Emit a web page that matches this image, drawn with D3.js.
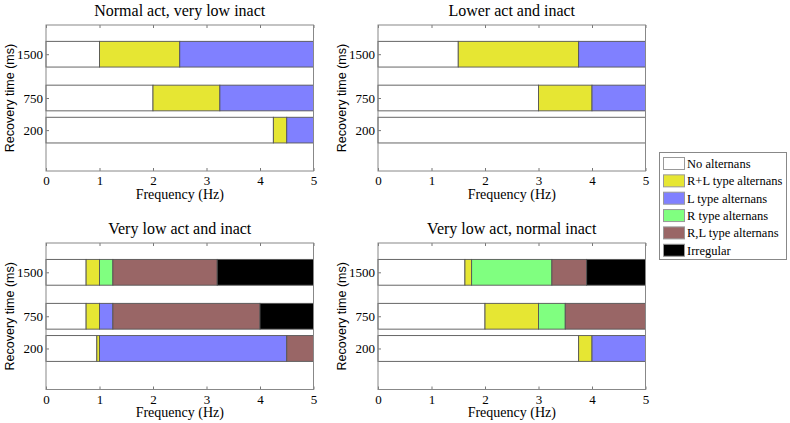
<!DOCTYPE html>
<html lang="en">
<head>
  <meta charset="UTF-8">
  <title>Alternans regions</title>
  <style>
    body { margin: 0; background: #fff; }
    text { font-family: "Liberation Serif", "Times New Roman", serif; fill: #000; }
  </style>
</head>
<body>
  <script src="https://cdn.jsdelivr.net/npm/d3@7/dist/d3.min.js"></script>
  <script>
    var width = 790;
    var height = 423;

    // data
    var recoveryTimes = [1500, 750, 200];
    var xTicks = [0, 1, 2, 3, 4, 5];
    var typeNames = ["No alternans", "R+L type alternans", "L type alternans",
      "R type alternans", "R,L type alternans", "Irregular"];
    var typeColors = ["#ffffff", "#e6e633", "#8080ff", "#80ff80", "#996666", "#000000"];
    var panelTitles = ["Normal act, very low inact", "Lower act and inact",
      "Very low act and inact", "Very low act, normal inact"];

    // each row: recovery time, frequency breakpoints (Hz), type index of each segment
    var normalActVeryLowInact = [
      { time: 1500, edges: [0, 1, 2.5, 5], types: [0, 1, 2] },
      { time: 750, edges: [0, 2, 3.25, 5], types: [0, 1, 2] },
      { time: 200, edges: [0, 4.25, 4.5, 5], types: [0, 1, 2] }
    ];
    var lowerActInact = [
      { time: 1500, edges: [0, 1.5, 3.75, 5], types: [0, 1, 2] },
      { time: 750, edges: [0, 3, 4, 5], types: [0, 1, 2] },
      { time: 200, edges: [0, 5], types: [0] }
    ];
    var veryLowActInact = [
      { time: 1500, edges: [0, 0.75, 1, 1.25, 3.2, 5], types: [0, 1, 3, 4, 5] },
      { time: 750, edges: [0, 0.75, 1, 1.25, 4, 5], types: [0, 1, 2, 4, 5] },
      { time: 200, edges: [0, 0.95, 1, 4.5, 5], types: [0, 1, 2, 4] }
    ];
    var veryLowActNormalInact = [
      { time: 1500, edges: [0, 1.625, 1.75, 3.25, 3.9, 5], types: [0, 1, 3, 4, 5] },
      { time: 750, edges: [0, 2, 3, 3.5, 5], types: [0, 1, 3, 4] },
      { time: 200, edges: [0, 3.75, 4, 5], types: [0, 1, 2] }
    ];
    var panelData = [normalActVeryLowInact, lowerActInact, veryLowActInact, veryLowActNormalInact];

    // layout of the four axes boxes
    var boxes = [
      { left: 46, right: 313.5, top: 25, bottom: 171 },
      { left: 378, right: 645.5, top: 25, bottom: 171 },
      { left: 46, right: 313.5, top: 243, bottom: 389.5 },
      { left: 378, right: 645.5, top: 243, bottom: 389.5 }
    ];
    var barHalf = 220; // ms
    var serif = "'Liberation Serif', 'Times New Roman', serif";

    var svg = d3.select("body").append("svg")
      .attr("width", width)
      .attr("height", height);

    panelData.forEach(function (rows, p) {
      var b = boxes[p];
      var x = d3.scaleLinear().domain([0, 5]).range([b.left, b.right]);
      var y = d3.scaleLinear().domain([-500, 2000]).range([b.bottom, b.top]);
      var g = svg.append("g");

      g.append("rect")
        .attr("x", b.left).attr("y", b.top)
        .attr("width", b.right - b.left).attr("height", b.bottom - b.top)
        .style("fill", "#fff");

      var segs = [];
      rows.forEach(function (r) {
        r.types.forEach(function (t, i) {
          segs.push({ time: r.time, x0: r.edges[i], x1: r.edges[i + 1], type: t });
        });
      });

      g.selectAll("rect.seg")
        .data(segs)
        .enter()
        .append("rect")
        .attr("class", "seg")
        .attr("x", function (d) { return x(d.x0); })
        .attr("width", function (d) { return x(d.x1) - x(d.x0); })
        .attr("y", function (d) { return y(d.time + barHalf); })
        .attr("height", function (d) { return y(d.time - barHalf) - y(d.time + barHalf); })
        .style("fill", function (d) { return typeColors[d.type]; })
        .style("stroke", "#555")
        .style("stroke-width", 0.9);

      // axes with inward ticks
      var xAxis = g.append("g")
        .attr("transform", "translate(0," + b.bottom + ")")
        .call(d3.axisBottom(x).tickValues(xTicks).tickSize(-3).tickPadding(5).tickFormat(d3.format("d")));
      var xTop = g.append("g")
        .attr("transform", "translate(0," + b.top + ")")
        .call(d3.axisTop(x).tickValues(xTicks).tickSize(-3).tickFormat(""));
      var yAxis = g.append("g")
        .attr("transform", "translate(" + b.left + ",0)")
        .call(d3.axisLeft(y).tickValues(recoveryTimes).tickSize(-3).tickPadding(3).tickFormat(d3.format("d")));

      [xAxis, xTop, yAxis].forEach(function (a) {
        a.attr("font-family", null).attr("font-size", null);
        a.select(".domain").remove();
        a.selectAll("line").style("stroke", "#777");
        a.selectAll("text")
          .style("font-family", serif)
          .style("font-size", "13px")
          .style("fill", "#000");
      });

      g.append("rect")
        .attr("x", b.left).attr("y", b.top)
        .attr("width", b.right - b.left).attr("height", b.bottom - b.top)
        .style("fill", "none")
        .style("stroke", "#888")
        .style("stroke-width", 1);

      var cx = (b.left + b.right) / 2;
      g.append("text")
        .attr("x", cx).attr("y", b.top - 9.5)
        .attr("text-anchor", "middle")
        .style("font-family", serif)
        .style("font-size", "16px")
        .text(panelTitles[p]);

      g.append("text")
        .attr("x", cx).attr("y", b.bottom + 27.5)
        .attr("text-anchor", "middle")
        .style("font-family", serif)
        .style("font-size", "14px")
        .text("Frequency (Hz)");

      g.append("text")
        .attr("transform", "translate(" + (b.left - 32) + "," + ((b.top + b.bottom) / 2) + ") rotate(-90)")
        .attr("text-anchor", "middle")
        .style("font-family", "'Liberation Sans', Arial, sans-serif")
        .style("font-size", "12.5px")
        .text("Recovery time (ms)");
    });

    // legend
    var legend = svg.append("g");
    legend.append("rect")
      .attr("x", 659.5).attr("y", 152.5)
      .attr("width", 127).attr("height", 107)
      .style("fill", "#fff")
      .style("stroke", "#888");

    var item = legend.selectAll("g.item")
      .data(typeNames)
      .enter()
      .append("g")
      .attr("class", "item")
      .attr("transform", function (d, i) { return "translate(0," + (163.5 + i * 17.35) + ")"; });

    item.append("rect")
      .attr("x", 663.5).attr("y", -6)
      .attr("width", 21).attr("height", 12)
      .style("fill", function (d, i) { return typeColors[i]; })
      .style("stroke", "#999");

    item.append("text")
      .attr("x", 687).attr("y", 4.3)
      .style("font-family", serif)
      .style("font-size", "12.5px")
      .text(function (d) { return d; });
  </script>
</body>
</html>
